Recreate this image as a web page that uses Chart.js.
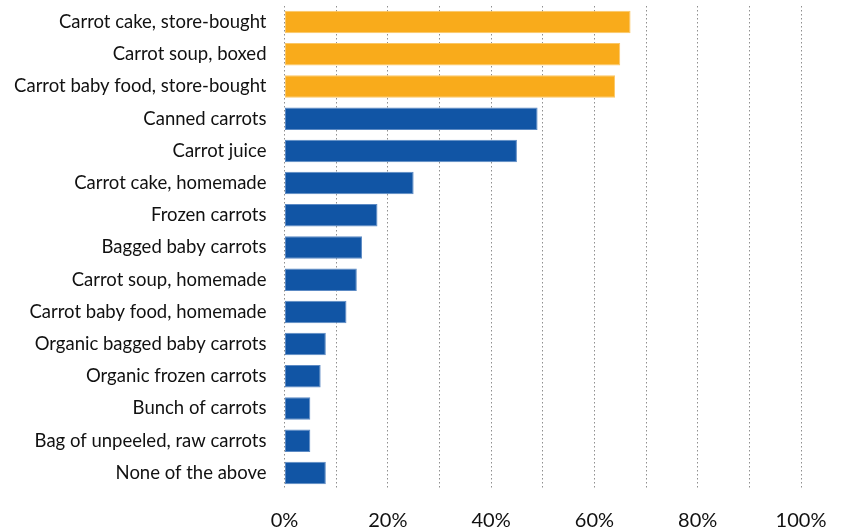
<!DOCTYPE html>
<html>
<head>
<meta charset="utf-8">
<script src="https://cdn.jsdelivr.net/npm/chart.js@4"></script>
<style>
  html, body { margin: 0; padding: 0; background: #fff; }
  #wrap { width: 843px; height: 529px; position: relative; }
</style>
</head>
<body>
<div id="wrap"><canvas id="c"></canvas></div>
<script>
const categories = [
  "Carrot cake, store-bought",
  "Carrot soup, boxed",
  "Carrot baby food, store-bought",
  "Canned carrots",
  "Carrot juice",
  "Carrot cake, homemade",
  "Frozen carrots",
  "Bagged baby carrots",
  "Carrot soup, homemade",
  "Carrot baby food, homemade",
  "Organic bagged baby carrots",
  "Organic frozen carrots",
  "Bunch of carrots",
  "Bag of unpeeled, raw carrots",
  "None of the above"
];
const values = [67, 65, 64, 49, 45, 25, 18, 15, 14, 12, 8, 7, 5, 5, 8];
const highlighted = [true, true, true, false, false, false, false, false, false, false, false, false, false, false, false];
const tickValues = [0, 20, 40, 60, 80, 100];

const ORANGE = '#F9AB1B', ORANGE_EDGE = '#FBC766';
const BLUE = '#1155A5', BLUE_EDGE = '#5C8AC4';

new Chart(document.getElementById('c'), {
  type: 'bar',
  data: {
    labels: categories,
    datasets: [{
      data: values,
      backgroundColor: highlighted.map(h => h ? ORANGE : BLUE),
      borderColor: highlighted.map(h => h ? ORANGE_EDGE : BLUE_EDGE),
      borderWidth: 1,
      borderSkipped: false,
      barPercentage: 0.7,
      categoryPercentage: 1.0
    }]
  },
  options: {
    indexAxis: 'y',
    responsive: true,
    maintainAspectRatio: false,
    animation: false,
    layout: { padding: { top: 6, right: 42, bottom: 0, left: 0 } },
    plugins: { legend: { display: false }, tooltip: { enabled: false } },
    scales: {
      x: {
        min: 0, max: 100,
        afterFit: s => { s.height = 40; s.paddingLeft = 0; s.paddingRight = 0; },
        ticks: {
          stepSize: 10,
          autoSkip: false,
          maxRotation: 0,
          padding: 20,
          color: '#111',
          font: { family: 'Lato', size: 20 },
          callback: v => tickValues.includes(v) ? v + '%' : ''
        },
        grid: {
          color: '#8f8f8f',
          lineWidth: 1,
          drawTicks: false,
          tickLength: 0
        },
        border: { display: false, dash: [1.5, 2.5] }
      },
      y: {
        afterFit: s => { s.width = 284.5; s.paddingTop = 0; s.paddingBottom = 0; },
        ticks: {
          padding: 18,
          color: '#111',
          font: { family: 'Lato', size: 18.5 }
        },
        grid: { display: false, drawTicks: false },
        border: { display: false }
      }
    }
  }
});
</script>
</body>
</html>
